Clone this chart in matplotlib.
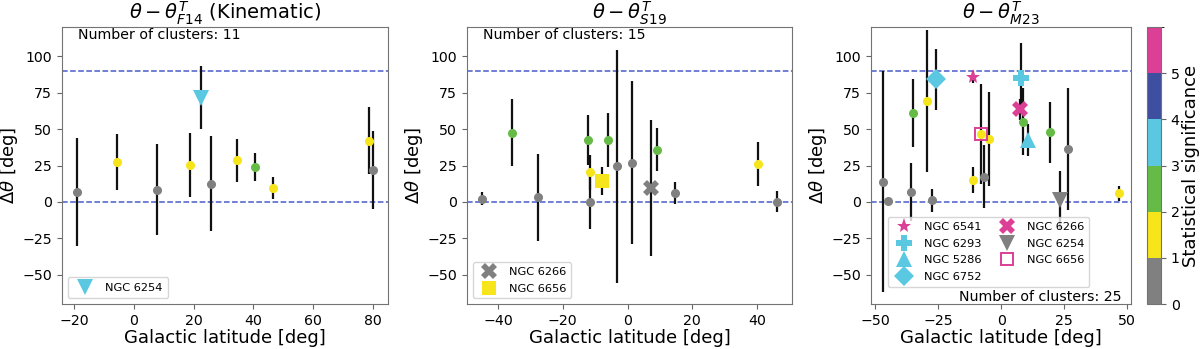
import numpy as np
import matplotlib
matplotlib.use("Agg")
import matplotlib.pyplot as plt
from matplotlib.colors import ListedColormap, BoundaryNorm
from matplotlib.ticker import MultipleLocator

# significance colours (0..5)
sig_colors = ['#808080', '#f6e51a', '#66bb47', '#5bc8e2', '#3f4fa0', '#dc3f96']

# ---- panel 1 : F14 (Kinematic)
lat1 = [-19.0, -5.5, 7.7, 18.9, 22.6, 25.8, 34.4, 40.6, 46.4, 78.6, 80.0]
dth1 = [7.0, 27.5, 8.5, 25.6, 71.5, 12.6, 28.5, 24.2, 9.8, 42.0, 22.0]
err1 = [37.0, 19.0, 31.5, 22.0, 21.7, 32.4, 15.0, 9.6, 7.5, 23.0, 27.0]
sig1 = [0, 1, 0, 1, 3, 0, 1, 2, 1, 1, 0]
hl1 = [('NGC 6254', 4, 'v')]

# ---- panel 2 : S19
lat2 = [-45.0, -35.8, -27.5, -12.2, -11.5, -11.5, -7.9, -5.9, -3.3, 1.4, 7.1, 9.1, 14.6, 40.3, 46.2]
dth2 = [2.3, 47.4, 3.2, 42.6, 20.4, 0.2, 14.2, 42.6, 24.5, 27.0, 9.6, 35.7, 6.2, 26.1, 0.0]
err2 = [4.6, 23.0, 30.0, 17.0, 12.0, 18.5, 9.7, 18.5, 80.0, 55.7, 46.5, 14.8, 7.6, 15.0, 7.2]
sig2 = [0, 2, 0, 2, 1, 0, 1, 2, 0, 0, 0, 2, 0, 1, 0]
hl2 = [('NGC 6266', 10, 'X'), ('NGC 6656', 6, 's')]

# ---- panel 3 : M23
lat3 = [-47.0, -45.1, -36.0, -35.2, -29.6, -27.3, -25.8, -11.3, -11.3, -8.0,
        -7.0, -5.0, 7.4, 7.9, 8.7, 10.6, 19.5, 23.3, 26.4, 46.8]
dth3 = [13.9, 0.7, 6.8, 61.2, 69.2, 1.1, 84.0, 85.8, 15.3, 46.6,
        17.3, 43.2, 63.5, 84.7, 55.0, 42.5, 47.7, 1.4, 36.3, 5.9]
err3 = [75.7, 1.5, 20.0, 23.4, 49.0, 8.0, 21.0, 4.3, 9.0, 34.0,
        21.7, 32.0, 7.0, 24.0, 23.0, 11.0, 20.8, 20.0, 41.7, 5.0]
sig3 = [0, 0, 0, 2, 1, 0, 3, 5, 1, 1, 0, 1, 5, 3, 2, 3, 2, 0, 0, 1]
hl3 = [('NGC 6541', 7, '*'), ('NGC 6293', 13, 'P'), ('NGC 5286', 15, '^'),
       ('NGC 6752', 6, 'D'), ('NGC 6266', 12, 'X'), ('NGC 6254', 17, 'v'),
       ('NGC 6656', 9, 'open_s')]

titles = [r'$\theta - \theta^{T}_{F14}$ (Kinematic)',
          r'$\theta - \theta^{T}_{S19}$',
          r'$\theta - \theta^{T}_{M23}$']
xsteps = [20, 20, 25]

W, H = 1200, 349
fig = plt.figure(figsize=(12, 3.49), dpi=100)
bot, top = 1 - 304 / H, 1 - 27 / H
boxes = [(62, 388), (467, 792), (871, 1131)]
axes = [fig.add_axes([l / W, bot, (r - l) / W, top - bot]) for l, r in boxes]
cax = fig.add_axes([1147 / W, bot, 14 / W, top - bot])

msize = {'v': 11, 'X': 11, 's': 10, '*': 11, 'P': 11, '^': 11, 'D': 10}


def draw_panel(ax, lat, dth, err, sig, highlights, title, xstep):
    ax.axhline(90, color='#4a5cc9', ls='--', lw=1.1, zorder=1)
    ax.axhline(0, color='#4a5cc9', ls='--', lw=1.1, zorder=1)
    ax.errorbar(lat, dth, yerr=err, fmt='none', ecolor='#111111', elinewidth=1.6, zorder=2)
    special = {i: m for _, i, m in highlights if m != 'open_s'}
    for i in range(len(lat)):
        if i in special:
            continue
        ax.plot(lat[i], dth[i], 'o', ms=5.5, color=sig_colors[sig[i]], zorder=3)
    for name, i, m in highlights:
        if m == 'open_s':
            ax.plot(lat[i], dth[i], 's', ms=9, mfc='none', mec=sig_colors[5], mew=1.4,
                    zorder=4, label=name)
        else:
            ax.plot(lat[i], dth[i], m, ms=msize[m], color=sig_colors[sig[i]], mew=0,
                    zorder=4, label=name)
    ax.set_ylim(-70, 120)
    ax.yaxis.set_major_locator(MultipleLocator(25))
    ax.xaxis.set_major_locator(MultipleLocator(xstep))
    ax.set_title(title, fontsize=14, pad=3)
    ax.set_xlabel('Galactic latitude [deg]', fontsize=13, labelpad=1)
    ax.set_ylabel(r'$\Delta\theta$ [deg]', fontsize=13, labelpad=1.5)
    ax.tick_params(labelsize=10.2, color='0.4')
    for s in ax.spines.values():
        s.set_color('0.45')


for k, (ax, d) in enumerate(zip(axes, [(lat1, dth1, err1, sig1, hl1),
                                       (lat2, dth2, err2, sig2, hl2),
                                       (lat3, dth3, err3, sig3, hl3)])):
    draw_panel(ax, *d, titles[k], xsteps[k])

axes[0].text(0.05, 0.995, 'Number of clusters: 11', transform=axes[0].transAxes,
             ha='left', va='top', fontsize=10.2)
axes[1].text(0.05, 0.995, 'Number of clusters: 15', transform=axes[1].transAxes,
             ha='left', va='top', fontsize=10.2)
axes[2].text(0.965, 0.0, 'Number of clusters: 25', transform=axes[2].transAxes,
             ha='right', va='bottom', fontsize=10.2)

axes[0].legend(loc='lower left', fontsize=8.2, labelspacing=0.6, borderaxespad=0.5,
               borderpad=0.5)
axes[1].legend(loc='lower left', fontsize=8.2, labelspacing=0.6, borderaxespad=0.5)
axes[2].legend(loc='lower left', bbox_to_anchor=(0.065, 0.062), borderaxespad=0,
               ncol=2, fontsize=8.2, labelspacing=0.6, columnspacing=1.2)

# discrete colorbar
cmap = ListedColormap(sig_colors)
norm = BoundaryNorm(np.arange(0, 7), cmap.N)
sm = plt.cm.ScalarMappable(cmap=cmap, norm=norm)
cb = fig.colorbar(sm, cax=cax, ticks=[0, 1, 2, 3, 4, 5])
cb.set_label('Statistical significance', fontsize=13, labelpad=2)
cb.ax.tick_params(labelsize=10.2, color='0.4')
cb.outline.set_edgecolor('0.45')

fig.savefig('out.png', dpi=100)
